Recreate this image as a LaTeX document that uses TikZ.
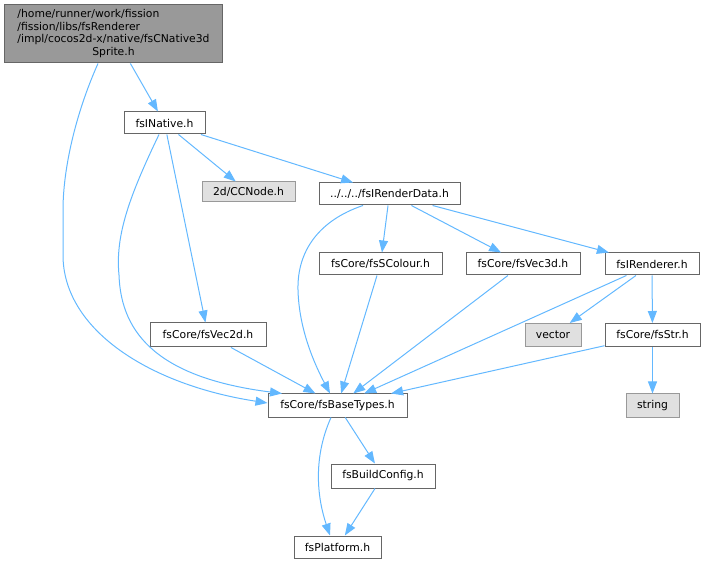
\documentclass[tikz,border=0pt]{standalone}
\usepackage{fontspec}
\setmainfont{DejaVu Sans}
\usetikzlibrary{arrows.meta}
\definecolor{edgeblue}{HTML}{63B8FF}
\definecolor{boxline}{HTML}{666666}
\definecolor{srcfill}{HTML}{999999}
\definecolor{extfill}{HTML}{E0E0E0}
\definecolor{extline}{HTML}{999999}

\begin{document}
\begin{tikzpicture}[x=1pt, y=-1pt, line width=1pt,
	file/.style={draw=boxline, fill=white, inner sep=0pt, minimum height=22pt,
		font=\fontsize{10.8}{12.7}\selectfont},
	ext/.style={file, draw=extline, fill=extfill},
	edge/.style={draw=edgeblue, -{Triangle[length=12pt, width=9pt]}}]
	\useasboundingbox (0, 0) rectangle (705, 564);

	% files
	\node[file, fill=srcfill, minimum width=218pt, minimum height=58pt] (src) at (113.5, 34)
		{\begin{tabular}{@{}l@{}}/home/runner/work/fission\\/fission/libs/fsRenderer\\
		/impl/cocos2d-x/native/fsCNative3d\\\multicolumn{1}{@{}c@{}}{Sprite.h}\end{tabular}};
	\node[file, minimum width=81pt] (native) at (164.5, 123) {fsINative.h};
	\node[ext, minimum width=93pt, minimum height=20pt] (ccnode) at (248.5, 192) {2d/CCNode.h};
	\node[file, minimum width=141pt] (rdata) at (389.5, 194) {../../../fsIRenderData.h};
	\node[file, minimum width=123pt] (scolour) at (380.5, 264) {fsCore/fsSColour.h};
	\node[file, minimum width=114pt] (vecthree) at (523, 264) {fsCore/fsVec3d.h};
	\node[file, minimum width=94pt] (renderer) at (652, 264) {fsIRenderer.h};
	\node[ext, minimum width=56pt, minimum height=23pt] (vector) at (553, 335) {vector};
	\node[file, minimum width=95pt, minimum height=23pt] (fsstr) at (652.5, 335) {fsCore/fsStr.h};
	\node[ext, minimum width=53pt, minimum height=23pt] (string) at (652.5, 405.5) {string};
	\node[file, minimum width=116pt, minimum height=24pt] (vectwo) at (208, 335) {fsCore/fsVec2d.h};
	\node[file, minimum width=139pt, minimum height=23pt] (base) at (337.5, 405.5) {fsCore/fsBaseTypes.h};
	\node[file, minimum width=104pt, minimum height=24pt] (bconf) at (383, 476) {fsBuildConfig.h};
	\node[file, minimum width=87pt] (platform) at (337.5, 547) {fsPlatform.h};

	% includes
	\draw[edge] (src) -- (native);
	\draw[edge] ([xshift=-15.5pt]src.south) .. controls (75, 115) and (63, 170) .. (63, 210)
		-- (63, 255) .. controls (63, 330) and (150, 385) .. ([yshift=2.5pt]base.west);
	\draw[edge] (native) -- (ccnode);
	\draw[edge] (native) -- (rdata);
	\draw[edge] (native) -- (vectwo);
	\draw[edge] ([xshift=-5.5pt]native.south) .. controls (130, 195) and (115, 235) .. (119, 275)
		.. controls (121, 335) and (160, 378) .. ([xshift=-55.5pt]base.north);
	\draw[edge] ([xshift=-26.5pt]rdata.south) .. controls (320, 220) and (297, 250) .. (298, 290)
		.. controls (299, 330) and (315, 365) .. ([xshift=-7.5pt]base.north);
	\draw[edge] (rdata) -- (scolour);
	\draw[edge] (rdata) -- (vecthree);
	\draw[edge] (rdata) -- (renderer);
	\draw[edge] (scolour) -- (base);
	\draw[edge] (vecthree) -- (base);
	\draw[edge] (renderer) -- (base);
	\draw[edge] (renderer) -- (vector);
	\draw[edge] (renderer) -- (fsstr);
	\draw[edge] (fsstr) -- (base);
	\draw[edge] (fsstr) -- (string);
	\draw[edge] (vectwo) -- (base);
	\draw[edge] (base) -- (bconf);
	\draw[edge] ([xshift=-6.5pt]base.south) .. controls (312, 460) and (318, 500) .. ([xshift=-7.5pt]platform.north);
	\draw[edge] (bconf) -- (platform);
\end{tikzpicture}
\end{document}
